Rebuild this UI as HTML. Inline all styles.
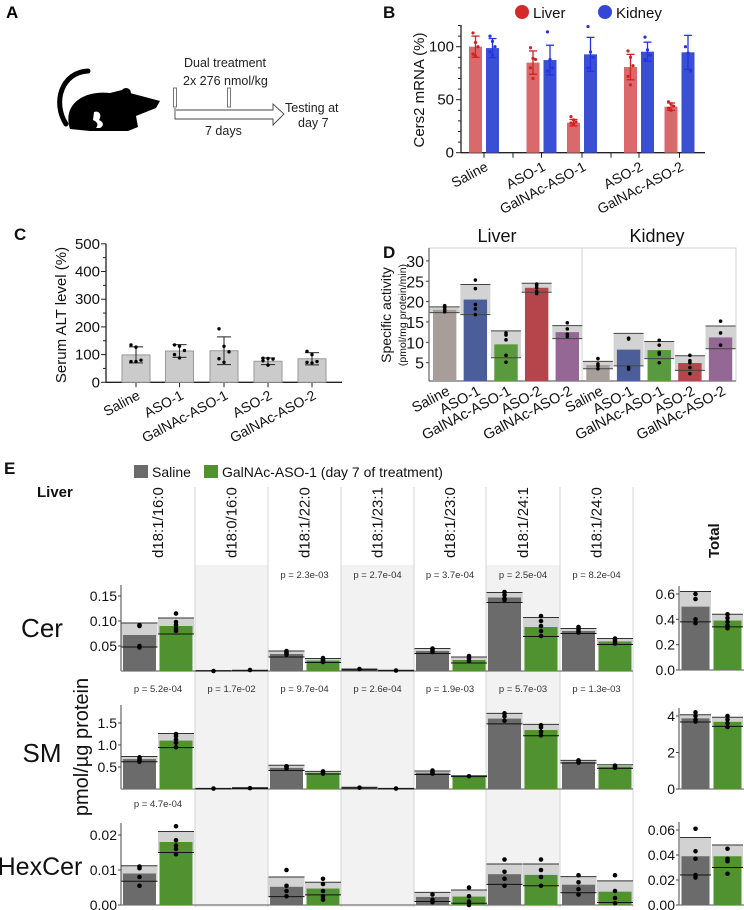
<!DOCTYPE html>
<html><head><meta charset="utf-8">
<style>
html,body{margin:0;padding:0;background:#fff;}
svg{display:block;font-family:"Liberation Sans",sans-serif;}
</style></head>
<body>
<svg id="fig" width="744" height="910" viewBox="0 0 744 910" xmlns="http://www.w3.org/2000/svg">
  <g>
    <text x="6" y="18" font-size="17" font-weight="bold">A</text>
    <path d="M88,71 C62,72 52,102 66,124" fill="none" stroke="#000" stroke-width="5" stroke-linecap="round"/>
    <path d="M70,129 C62,104 84,90 110,93 L122,90 L130,93 L160,101 L156,108 L136,116 L138,127 L128,131 L90,131 Z" fill="#000"/>
    <circle cx="126" cy="93" r="5" fill="#000"/>
    <path d="M94,112 C100,110 102,116 99,120 C104,122 104,126 100,128 L96,128 C99,124 97,122 93,120 Z" fill="#fff"/>
    <rect x="173.5" y="88" width="3" height="19" fill="#fff" stroke="#555" stroke-width="0.8"/>
    <rect x="227.5" y="88" width="3" height="19" fill="#fff" stroke="#555" stroke-width="0.8"/>
    <path d="M175,108 L175,119 L273,119 L273,125 L284,114 L273,104 L273,110 L176,110" fill="#fff" stroke="#444" stroke-width="0.9"/>
    <text x="184" y="67" font-size="12.5" fill="#222">Dual treatment</text>
    <text x="183" y="85" font-size="12.5" fill="#222">2x 276 nmol/kg</text>
    <text x="285" y="112" font-size="12.5" fill="#222">Testing at</text>
    <text x="298" y="127" font-size="12.5" fill="#222">day 7</text>
    <text x="205" y="135" font-size="12.5" fill="#222">7 days</text>
  </g>
  <g id="pB"></g>
  <g id="pC"></g>
  <g id="pD"></g>
  <g id="pE"></g>
</svg>
<script>
// ---------- Panel B data ----------
const bGroups = ['Saline','ASO-1','GalNAc-ASO-1','ASO-2','GalNAc-ASO-2'];
const bLiverMean = [100, 85, 28.3, 80.8, 43.4];
const bLiverSd = [10, 11, 3, 12, 3.5];
const bKidneyMean = [98.7, 87.4, 92.8, 95.3, 94.7];
const bKidneySd = [9, 14, 16, 9, 16];
const bLiverPts = [[113,104,100,93,91],[99,89,88,80,70],[34,31,29,28,27],[96,90,82,72,64],[48,46,44,42,40]];
const bKidneyPts = [[110,105,100,95,92],[114,88,80,77],[119,95,90,80],[109,97,92,88],[100,94,77]];
const bTicks = [0,50,100];
// ---------- Panel C data ----------
const cGroups = ['Saline','ASO-1','GalNAc-ASO-1','ASO-2','GalNAc-ASO-2'];
const cMean = [99, 113, 114, 76, 85];
const cSd = [29, 23, 50, 12, 22];
const cPts = [[135,127,80,75,75],[135,130,115,100,88],[193,130,110,85,72],[87,86,84,78,62],[112,100,75,72,70]];
const cTicks = [0,100,200,300,400,500];
// ---------- Panel D data ----------
const dGroups = ['Saline','ASO-1','GalNAc-ASO-1','ASO-2','GalNAc-ASO-2','Saline','ASO-1','GalNAc-ASO-1','ASO-2','GalNAc-ASO-2'];
const dMean = [18, 20.5, 9.5, 23.4, 12.5, 4.4, 8.2, 8.1, 4.9, 11.2];
const dSd = [0.7, 3.7, 3.3, 1.1, 1.6, 0.9, 4, 2.1, 1.8, 2.8];
const dPts = [[19,18.5,18,17.5],[25.3,23.2,19.3,18.2,16.8],[12.3,11.8,10.6,6.8,5.1],[24.3,24,23.4,22.5,22],[14.8,13.3,12,11.4],[6,4.7,4.2,3.5],[11,10.8,3.8,3.4],[10.5,9.3,7.5,7.1,5],[6.8,5.5,5,3.8,2.3],[15.2,12.3,9.3]];
const dTicks = [5,10,15,20,25,30];
// ---------- Panel E data ----------
const eCols = ['d18:1/16:0','d18:0/16:0','d18:1/22:0','d18:1/23:1','d18:1/23:0','d18:1/24:1','d18:1/24:0'];
const cerSalMean = [0.072,0.0005,0.034,0.003,0.040,0.147,0.080];
const cerSalSd = [0.024,0.0003,0.006,0.001,0.005,0.010,0.005];
const cerGalMean = [0.090,0.001,0.021,0.001,0.022,0.088,0.059];
const cerGalSd = [0.016,0.0005,0.004,0.0005,0.006,0.019,0.006];
const smSalMean = [0.68,0.01,0.48,0.03,0.37,1.60,0.62];
const smSalSd = [0.06,0.005,0.06,0.01,0.04,0.12,0.03];
const smGalMean = [1.10,0.02,0.37,0.01,0.29,1.34,0.51];
const smGalSd = [0.16,0.01,0.03,0.005,0.01,0.13,0.04];
const hexSalMean = [0.009,0,0.0052,0,0.0023,0.0088,0.0058];
const hexSalSd = [0.0022,0,0.0028,0,0.0013,0.0029,0.0023];
const hexGalMean = [0.018,0,0.0047,0,0.0024,0.0086,0.0038];
const hexGalSd = [0.003,0,0.0018,0,0.0019,0.0031,0.0031];
const cerSalPts = [[0.092,0.09,0.05,0.047],[0],[0.04,0.037,0.035,0.033],[0.004],[0.045,0.042,0.038],[0.158,0.152,0.145,0.142],[0.088,0.084,0.08,0.077]];
const cerGalPts = [[0.115,0.098,0.092,0.085,0.08],[0.002],[0.026,0.023,0.02,0.018],[0.001],[0.03,0.025,0.02],[0.11,0.1,0.09,0.08,0.07],[0.065,0.062,0.058,0.055]];
const smSalPts = [[0.72,0.68,0.65,0.62],[0.01],[0.52,0.5,0.47],[0.03],[0.42,0.38,0.35],[1.72,1.65,1.55],[0.65,0.62,0.6]];
const smGalPts = [[1.25,1.2,1.12,1.05,0.95],[0.02],[0.4,0.37,0.35],[0.01],[0.29],[1.45,1.4,1.3,1.22],[0.53,0.5,0.48]];
const hexSalPts = [[0.011,0.0105,0.008,0.0055],[],[0.01,0.0055,0.004,0.0025],[],[0.003,0.0015,0.0008],[0.013,0.0095,0.0075,0.0055],[0.0085,0.0065,0.0045,0.003]];
const hexGalPts = [[0.0225,0.0185,0.017,0.016,0.0145],[],[0.0075,0.006,0.004,0.0025,0.0015],[],[0.005,0.0025,0.001,0],[0.013,0.01,0.008,0.0055],[0.0085,0.004,0.002,0.0005]];
const cerP = ['','','p = 2.3e-03','p = 2.7e-04','p = 3.7e-04','p = 2.5e-04','p = 8.2e-04'];
const smP = ['p = 5.2e-04','p = 1.7e-02','p = 9.7e-04','p = 2.6e-04','p = 1.9e-03','p = 5.7e-03','p = 1.3e-03'];
const hexP = ['p = 4.7e-04','','','','','',''];
const totMean = {cer:[0.50,0.39], sm:[3.87,3.68], hex:[0.039,0.039]};
const totCerSd = [0.12,0.05];
const totSmSd = [0.2,0.25];
const totHexSd = [0.015,0.009];
const totCerPts = [[0.6,0.56,0.4,0.37],[0.44,0.41,0.38,0.35,0.33]];
const totSmPts = [[4.2,4.0,3.8,3.7],[4.0,3.8,3.6,3.4]];
const totHexPts = [[0.061,0.043,0.037,0.024,0.022],[0.045,0.037,0.035,0.025]];
const cerTicks = [0.05,0.10,0.15];
const smTicks = [0.5,1.0,1.5];
const hexTicks = [0.00,0.01,0.02];
const totCerTicks = [0.0,0.2,0.4,0.6];
const totSmTicks = [0,2,4];
const totHexTicks = [0.00,0.02,0.04,0.06];

const NS='http://www.w3.org/2000/svg';
function mk(parent, tag, attrs, name){
  const el=document.createElementNS(NS,tag);
  for(const k in attrs) el.setAttribute(k, attrs[k]);
  
  
  parent.appendChild(el);
  return el;
}
function txt(parent, x, y, s, size, name, extra){
  const a=Object.assign({x:x,y:y,'font-size':size,fill:'#111'}, extra||{});
  const el=mk(parent,'text',a,name);
  el.textContent=s;
  return el;
}
function rotLabel(parent, x, y, s, size, name, ang){
  return txt(parent, x, y, s, size, name, {'text-anchor':'end', transform:`rotate(${ang} ${x} ${y})`});
}

// ================= Panel B =================
(function(){
  const g=document.getElementById('pB');
  const y0=152.7, k=1.06, x0=461, x1=705;
  const yB=v=>y0-v*k;
  const centers=[484,541.5,582,639,679.5];
  txt(g,383,18,'B',17,'panel-b-label',{'font-weight':'bold'});
  mk(g,'circle',{cx:522,cy:12,r:7,fill:'#d42a2a'},'legend-liver-marker');
  txt(g,533,18,'Liver',15,'legend-liver-label');
  mk(g,'circle',{cx:605,cy:12,r:7,fill:'#3346d6'},'legend-kidney-marker');
  txt(g,616,18,'Kidney',15,'legend-kidney-label');
  mk(g,'line',{x1:x0,y1:25,x2:x0,y2:y0,stroke:'#222','stroke-width':1.3},'y-axis');
  mk(g,'line',{x1:x0,y1:y0,x2:x1,y2:y0,stroke:'#222','stroke-width':1.3},'x-axis');
  for(let v=0; v<=120; v+=10){
    mk(g,'line',{x1:x0-(v%50===0?5:3),y1:yB(v),x2:x0,y2:yB(v),stroke:'#222','stroke-width':1},'y-tick');
  }
  bTicks.forEach(v=>txt(g,x0-7,yB(v)+5,String(v),15,'y-tick-label',{'text-anchor':'end'}));
  const yl=txt(g,424,90,'Cers2 mRNA (%)',15,'y-axis-title',{'text-anchor':'middle',transform:'rotate(-90 424 90)'});
  [513,611].forEach(x=>mk(g,'line',{x1:x,y1:y0,x2:x,y2:y0+5,stroke:'#222'},'x-separator-tick'));
  bGroups.forEach((name,i)=>{
    const c=centers[i];
    mk(g,'line',{x1:c,y1:y0,x2:c,y2:y0+5,stroke:'#222'},'x-tick');
    rotLabel(g,c+5,y0+17,name,14,'x-tick-label',-28);
    [[bLiverMean,bLiverSd,bLiverPts,c-8.5,'#d96a6c','#d42020','liver'],[bKidneyMean,bKidneySd,bKidneyPts,c+8.5,'#3a4fd1','#2333e6','kidney']].forEach(s=>{
      const [m,sd,pts,cx,fill,ec,lab]=s;
      mk(g,'rect',{x:cx-6.5,y:yB(m[i]),width:13,height:y0-yB(m[i]),fill:fill},'bar-'+lab);
      mk(g,'line',{x1:cx,y1:yB(m[i]-sd[i]),x2:cx,y2:yB(m[i]+sd[i]),stroke:ec,'stroke-width':1.3},'error-bar-'+lab);
      mk(g,'line',{x1:cx-4,y1:yB(m[i]+sd[i]),x2:cx+4,y2:yB(m[i]+sd[i]),stroke:ec,'stroke-width':1.3},'error-cap-'+lab);
      mk(g,'line',{x1:cx-4,y1:yB(m[i]-sd[i]),x2:cx+4,y2:yB(m[i]-sd[i]),stroke:ec,'stroke-width':1.3},'error-cap-'+lab);
      pts[i].forEach((p,j)=>mk(g,'circle',{cx:cx+((j%3)-1)*2.5,cy:yB(p),r:1.6,fill:ec},'point-'+lab));
    });
  });
})();

// ================= Panel C =================
(function(){
  const g=document.getElementById('pC');
  const y0=382.3, k=0.277, x0=106, x1=342;
  const yC=v=>y0-v*k;
  const centers=[136,179.5,224,268,312];
  txt(g,14,240,'C',17,'panel-c-label',{'font-weight':'bold'});
  mk(g,'line',{x1:x0,y1:yC(500),x2:x0,y2:y0,stroke:'#222','stroke-width':1.3},'y-axis');
  mk(g,'line',{x1:x0,y1:y0,x2:x1,y2:y0,stroke:'#222','stroke-width':1.3},'x-axis');
  for(let v=0; v<=500; v+=50){
    mk(g,'line',{x1:x0-(v%100===0?5:3),y1:yC(v),x2:x0,y2:yC(v),stroke:'#222'},'y-tick');
  }
  cTicks.forEach(v=>txt(g,x0-6,yC(v)+5,String(v),15,'y-tick-label',{'text-anchor':'end'}));
  txt(g,66,315,'Serum ALT level (%)',15,'y-axis-title',{'text-anchor':'middle',transform:'rotate(-90 66 315)'});
  cGroups.forEach((name,i)=>{
    const c=centers[i];
    mk(g,'line',{x1:c,y1:y0,x2:c,y2:y0+5,stroke:'#222'},'x-tick');
    rotLabel(g,c+5,y0+16,name,14,'x-tick-label',-28);
    mk(g,'rect',{x:c-14,y:yC(cMean[i]),width:28,height:y0-yC(cMean[i]),fill:'#cbcbcb',stroke:'#999','stroke-width':1},'bar-'+name);
    mk(g,'line',{x1:c,y1:yC(cMean[i]-cSd[i]),x2:c,y2:yC(cMean[i]+cSd[i]),stroke:'#333','stroke-width':1.1},'error-bar');
    mk(g,'line',{x1:c-7,y1:yC(cMean[i]+cSd[i]),x2:c+7,y2:yC(cMean[i]+cSd[i]),stroke:'#333','stroke-width':1.1},'error-cap');
    mk(g,'line',{x1:c-7,y1:yC(cMean[i]-cSd[i]),x2:c+7,y2:yC(cMean[i]-cSd[i]),stroke:'#333','stroke-width':1.1},'error-cap');
    cPts[i].forEach((p,j)=>mk(g,'circle',{cx:c+((j%3)-1)*5,cy:yC(p),r:1.7,fill:'#000'},'point'));
  });
})();

// ================= Panel D =================
(function(){
  const g=document.getElementById('pD');
  const y0=383, k=4.07, x0=429, x1=736, top=248, base=381;
  const yD=v=>y0-v*k;
  const colors=['#a89e99','#4b5e99','#5a9a3e','#b5444b','#956794'];
  txt(g,383,258,'D',17,'panel-d-label',{'font-weight':'bold'});
  txt(g,497,242,'Liver',18,'liver-facet-title',{'text-anchor':'middle'});
  txt(g,657,242,'Kidney',18,'kidney-facet-title',{'text-anchor':'middle'});
  mk(g,'rect',{x:x0,y:top,width:x1-x0,height:base-top,fill:'none',stroke:'#d0d0d0'},'plot-frame');
  mk(g,'line',{x1:582,y1:top,x2:582,y2:base,stroke:'#d0d0d0'},'facet-divider');
  mk(g,'line',{x1:x0,y1:top,x2:x0,y2:base,stroke:'#444'},'y-axis');
  mk(g,'line',{x1:x0,y1:base,x2:x1,y2:base,stroke:'#444'},'x-axis');
  dTicks.forEach(v=>{
    mk(g,'line',{x1:x0-3,y1:yD(v),x2:x0,y2:yD(v),stroke:'#444'},'y-tick');
    txt(g,x0-5,yD(v)+6,String(v),16,'y-tick-label',{'text-anchor':'end'});
  });
  txt(g,391,315,'Specific activity',14,'y-axis-title',{'text-anchor':'middle',transform:'rotate(-90 391 315)'});
  txt(g,406,315,'(pmol/mg protein/min)',10.5,'y-axis-unit',{'text-anchor':'middle',transform:'rotate(-90 406 315)'});
  dGroups.forEach((name,i)=>{
    const c=444.7+i*30.65;
    const m=dMean[i], s=dSd[i];
    mk(g,'rect',{x:c-15,y:yD(m+s),width:30,height:yD(m-s)-yD(m+s),fill:'#d3d3d3'},'sd-band');
    mk(g,'rect',{x:c-11.7,y:yD(m),width:23.4,height:base-yD(m),fill:colors[i%5]},'bar-'+name);
    mk(g,'line',{x1:c-15,y1:yD(m+s),x2:c+15,y2:yD(m+s),stroke:'#444'},'sd-upper-line');
    mk(g,'line',{x1:c-15,y1:yD(m-s),x2:c+15,y2:yD(m-s),stroke:'#444'},'sd-lower-line');
    dPts[i].forEach(p=>mk(g,'circle',{cx:c,cy:yD(p),r:1.8,fill:'#000'},'point'));
    rotLabel(g,c+6,base+13,name,14.5,'x-tick-label',-28);
  });
})();

// ================= Panel E =================
(function(){
  const g=document.getElementById('pE');
  const colX=[121,195,268,341,414,486,560,633];
  const tx0=679;
  txt(g,4,474,'E',17,'panel-e-label',{'font-weight':'bold'});
  mk(g,'rect',{x:134,y:465,width:14,height:13,fill:'#6b6b6b'},'legend-saline-swatch');
  txt(g,152,477,'Saline',14,'legend-saline-label');
  mk(g,'rect',{x:204,y:465,width:14,height:13,fill:'#4f922f'},'legend-galnac-swatch');
  txt(g,222,477,'GalNAc-ASO-1 (day 7 of treatment)',14,'legend-galnac-label');
  txt(g,37,497,'Liver',15,'liver-title',{'font-weight':'bold'});
  // shading
  [1,3,5].forEach(i=>mk(g,'rect',{x:colX[i],y:565,width:colX[i+1]-colX[i],height:342,fill:'#f2f2f2'},'column-shading'));
  colX.slice(1).forEach(x=>mk(g,'line',{x1:x,y1:487,x2:x,y2:907,stroke:'#d4d4d4'},'column-divider'));
  eCols.forEach((c,i)=>{
    const cx=(colX[i]+colX[i+1])/2+5;
    txt(g,cx,558,c,15,'column-label',{transform:`rotate(-90 ${cx} 558)`});
  });
  txt(g,719,558,'Total',15,'total-label',{'font-weight':'bold',transform:'rotate(-90 719 558)'});
  txt(g,42,637,'Cer',26,'row-label-cer',{'text-anchor':'middle'});
  txt(g,42,762,'SM',26,'row-label-sm',{'text-anchor':'middle'});
  txt(g,40,875,'HexCer',25,'row-label-hexcer',{'text-anchor':'middle'});
  txt(g,88,747,'pmol/µg protein',20,'y-axis-title',{'text-anchor':'middle',transform:'rotate(-90 88 747)'});

  function row(cfg){
    const {base,top,k,salM,salS,galM,galS,salP,galP,ticks,fmt,pvals,pY,tBase,tTop,tk,tM,tS,tSP,tGP,tTicks,tFmt,nm}=cfg;
    const yv=v=>base-v*k;
    mk(g,'line',{x1:colX[0],y1:top,x2:colX[0],y2:base,stroke:'#444'},nm+'-y-axis');
    mk(g,'line',{x1:colX[0],y1:base,x2:colX[7],y2:base,stroke:'#777','stroke-width':1.3},nm+'-x-axis');
    ticks.forEach(v=>{
      mk(g,'line',{x1:colX[0]-3,y1:yv(v),x2:colX[0],y2:yv(v),stroke:'#444'},nm+'-y-tick');
      txt(g,colX[0]-4,yv(v)+5,v.toFixed(fmt),14,nm+'-y-tick-label',{'text-anchor':'end'});
    });
    function bar(x,w,m,s,pts,col,yf,b,label){
      if(m+s>0){
        mk(g,'rect',{x:x,y:yf(m+s),width:w,height:Math.max(0,yf(m-s)-yf(m+s)),fill:'#d2d2d2'},label+'-sd-band');
      }
      mk(g,'rect',{x:x+1.5,y:yf(m),width:w-3,height:Math.max(0,b-yf(m)),fill:col},label+'-bar');
      if(m+s>0){
        mk(g,'line',{x1:x,y1:yf(m+s),x2:x+w,y2:yf(m+s),stroke:'#333'},label+'-sd-upper');
        mk(g,'line',{x1:x,y1:yf(m-s),x2:x+w,y2:yf(m-s),stroke:'#111'},label+'-sd-lower');
      }
      pts.forEach(p=>mk(g,'circle',{cx:x+w/2,cy:yf(p),r:2.3,fill:'#000'},label+'-point'));
    }
    eCols.forEach((c,i)=>{
      const x=colX[i];
      bar(x+0.5,36,salM[i],salS[i],salP[i],'#6b6b6b',yv,base,nm+'-saline');
      bar(x+37,36,galM[i],galS[i],galP[i],'#4f922f',yv,base,nm+'-galnac');
      if(pvals[i]) txt(g,(colX[i]+colX[i+1])/2,pY,pvals[i],9.5,nm+'-p-value',{'text-anchor':'middle',fill:'#333'});
    });
    // totals
    const ty=v=>tBase-v*tk;
    mk(g,'line',{x1:tx0,y1:tTop,x2:tx0,y2:tBase,stroke:'#444'},nm+'-total-y-axis');
    mk(g,'line',{x1:tx0,y1:tBase,x2:744,y2:tBase,stroke:'#777','stroke-width':1.3},nm+'-total-x-axis');
    tTicks.forEach(v=>{
      mk(g,'line',{x1:tx0-3,y1:ty(v),x2:tx0,y2:ty(v),stroke:'#444'},nm+'-total-y-tick');
      txt(g,tx0-4,ty(v)+5,v.toFixed(tFmt),14,nm+'-total-y-tick-label',{'text-anchor':'end'});
    });
    bar(tx0+1,31,tM[0],tS[0],tSP,'#6b6b6b',ty,tBase,nm+'-total-saline');
    bar(tx0+33,31,tM[1],tS[1],tGP,'#4f922f',ty,tBase,nm+'-total-galnac');
  }
  row({nm:'cer',base:671,top:585,k:500,salM:cerSalMean,salS:cerSalSd,galM:cerGalMean,galS:cerGalSd,salP:cerSalPts,galP:cerGalPts,ticks:cerTicks,fmt:2,pvals:cerP,pY:578,
       tBase:670,tTop:586,tk:126.7,tM:totMean.cer,tS:totCerSd,tSP:totCerPts[0],tGP:totCerPts[1],tTicks:totCerTicks,tFmt:1});
  row({nm:'sm',base:789,top:705,k:44,salM:smSalMean,salS:smSalSd,galM:smGalMean,galS:smGalSd,salP:smSalPts,galP:smGalPts,ticks:smTicks,fmt:1,pvals:smP,pY:692,
       tBase:789,tTop:708,tk:18.25,tM:totMean.sm,tS:totSmSd,tSP:totSmPts[0],tGP:totSmPts[1],tTicks:totSmTicks,tFmt:0});
  row({nm:'hexcer',base:905,top:823,k:3500,salM:hexSalMean,salS:hexSalSd,galM:hexGalMean,galS:hexGalSd,salP:hexSalPts,galP:hexGalPts,ticks:hexTicks,fmt:2,pvals:hexP,pY:807,
       tBase:905,tTop:822,tk:1250,tM:totMean.hex,tS:totHexSd,tSP:totHexPts[0],tGP:totHexPts[1],tTicks:totHexTicks,tFmt:2});
})();
</script>
</body></html>
